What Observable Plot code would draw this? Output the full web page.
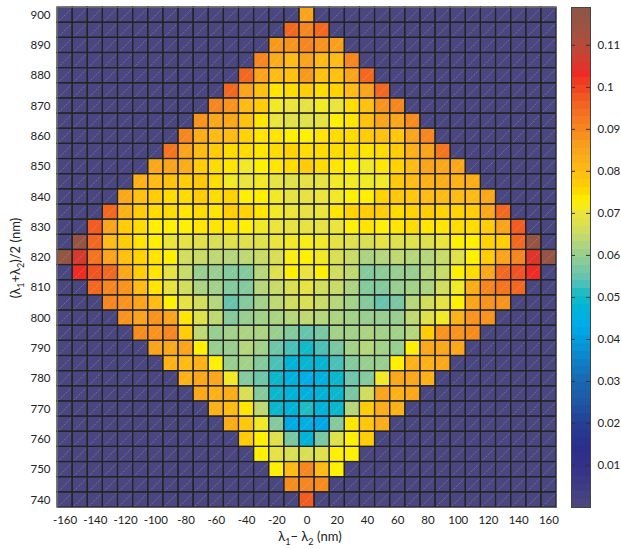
<!DOCTYPE html>
<html><head><meta charset="utf-8">
<script src="https://cdn.jsdelivr.net/npm/d3@7"></script>
<script src="https://cdn.jsdelivr.net/npm/@observablehq/plot@0.6"></script>
<style>
body{margin:0;background:#fff;font-family:Lato,"Open Sans",sans-serif;}
#wrap{position:relative;width:621px;height:549px;display:flex;background:#fff;}
#wrap svg{display:block;}
</style></head><body><div id="wrap"></div>
<script>
// categories
const xValues = [-160,-150,-140,-130,-120,-110,-100,-90,-80,-70,-60,-50,-40,-30,-20,-10,0,10,20,30,40,50,60,70,80,90,100,110,120,130,140,150,160];
const yValues = [900,895,890,885,880,875,870,865,860,855,850,845,840,835,830,825,820,815,810,805,800,795,790,785,780,775,770,765,760,755,750,745,740];
// tick labels
const xTicks = [-160,-140,-120,-100,-80,-60,-40,-20,0,20,40,60,80,100,120,140,160];
const yTicks = [740,750,760,770,780,790,800,810,820,830,840,850,860,870,880,890,900];
const cbTicks = [0.01,0.02,0.03,0.04,0.05,0.06,0.07,0.08,0.09,0.1,0.11];

// values of the non-empty (diamond) cells of each row, centred on x = 0
const v900 = [0.085];
const v895 = [0.095,0.09,0.095];
const v890 = [0.087,0.088,0.09,0.088,0.086];
const v885 = [0.09,0.083,0.08,0.085,0.08,0.08,0.09];
const v880 = [0.095,0.085,0.08,0.079,0.087,0.079,0.079,0.085,0.095];
const v875 = [0.095,0.085,0.079,0.074,0.075,0.077,0.075,0.076,0.08,0.085,0.095];
const v870 = [0.09,0.088,0.08,0.077,0.071,0.07,0.069,0.071,0.07,0.075,0.079,0.088,0.09];
const v865 = [0.088,0.084,0.084,0.079,0.074,0.07,0.068,0.068,0.069,0.073,0.074,0.079,0.085,0.084,0.089];
const v860 = [0.09,0.083,0.08,0.08,0.076,0.074,0.074,0.073,0.073,0.074,0.075,0.075,0.077,0.079,0.078,0.085,0.09];
const v855 = [0.093,0.085,0.08,0.077,0.075,0.075,0.074,0.075,0.076,0.075,0.075,0.075,0.075,0.074,0.075,0.077,0.082,0.085,0.093];
const v850 = [0.084,0.085,0.083,0.077,0.075,0.074,0.071,0.073,0.074,0.075,0.077,0.075,0.074,0.073,0.071,0.074,0.076,0.08,0.085,0.084,0.084];
const v845 = [0.082,0.08,0.079,0.077,0.078,0.075,0.071,0.07,0.071,0.069,0.068,0.069,0.069,0.071,0.071,0.071,0.071,0.078,0.08,0.082,0.083,0.082,0.083];
const v840 = [0.084,0.079,0.077,0.075,0.075,0.077,0.075,0.076,0.073,0.073,0.071,0.069,0.069,0.07,0.071,0.073,0.073,0.076,0.078,0.078,0.08,0.08,0.08,0.08,0.084];
const v835 = [0.095,0.082,0.077,0.075,0.075,0.074,0.075,0.074,0.077,0.076,0.074,0.071,0.07,0.069,0.07,0.074,0.076,0.077,0.077,0.075,0.076,0.077,0.076,0.076,0.077,0.084,0.095];
const v830 = [0.097,0.085,0.077,0.075,0.073,0.073,0.073,0.074,0.074,0.074,0.073,0.071,0.07,0.069,0.069,0.069,0.07,0.073,0.074,0.073,0.074,0.075,0.074,0.074,0.075,0.075,0.077,0.085,0.097];
const v825 = [0.116,0.095,0.08,0.077,0.074,0.073,0.07,0.069,0.068,0.067,0.068,0.068,0.068,0.07,0.071,0.072,0.071,0.069,0.068,0.067,0.069,0.068,0.068,0.068,0.07,0.073,0.073,0.076,0.077,0.095,0.116];
const v820 = [0.117,0.106,0.093,0.085,0.079,0.076,0.074,0.073,0.066,0.065,0.064,0.063,0.064,0.065,0.067,0.072,0.073,0.071,0.067,0.065,0.062,0.063,0.064,0.063,0.063,0.065,0.068,0.073,0.077,0.085,0.09,0.105,0.116];
const v815 = [0.103,0.098,0.095,0.084,0.077,0.074,0.069,0.065,0.06,0.06,0.058,0.058,0.063,0.068,0.073,0.07,0.073,0.066,0.064,0.058,0.059,0.06,0.06,0.063,0.065,0.073,0.075,0.084,0.095,0.098,0.103];
const v810 = [0.095,0.09,0.088,0.08,0.074,0.069,0.066,0.062,0.061,0.058,0.058,0.063,0.065,0.067,0.069,0.066,0.065,0.062,0.058,0.058,0.06,0.061,0.062,0.066,0.071,0.083,0.09,0.093,0.095];
const v805 = [0.09,0.088,0.085,0.08,0.073,0.069,0.066,0.063,0.055,0.058,0.061,0.064,0.066,0.067,0.065,0.063,0.061,0.058,0.055,0.057,0.063,0.066,0.069,0.073,0.085,0.088,0.088];
const v800 = [0.088,0.085,0.088,0.085,0.074,0.068,0.064,0.058,0.06,0.061,0.062,0.063,0.064,0.063,0.062,0.061,0.06,0.06,0.06,0.064,0.068,0.071,0.082,0.088,0.088];
const v795 = [0.089,0.088,0.09,0.077,0.064,0.06,0.061,0.062,0.062,0.06,0.058,0.055,0.057,0.061,0.061,0.062,0.061,0.061,0.063,0.077,0.088,0.088,0.089];
const v790 = [0.085,0.084,0.085,0.073,0.06,0.06,0.063,0.061,0.056,0.053,0.05,0.053,0.057,0.061,0.063,0.061,0.06,0.073,0.084,0.084,0.084];
const v785 = [0.082,0.08,0.082,0.073,0.06,0.061,0.058,0.053,0.047,0.048,0.048,0.053,0.058,0.06,0.06,0.073,0.082,0.082,0.084];
const v780 = [0.082,0.084,0.084,0.071,0.058,0.056,0.049,0.046,0.044,0.046,0.049,0.056,0.058,0.071,0.084,0.084,0.082];
const v775 = [0.084,0.082,0.083,0.067,0.058,0.049,0.047,0.046,0.047,0.049,0.057,0.066,0.085,0.082,0.084];
const v770 = [0.082,0.08,0.074,0.064,0.049,0.047,0.051,0.047,0.049,0.063,0.077,0.083,0.082];
const v765 = [0.083,0.078,0.071,0.058,0.043,0.045,0.043,0.058,0.074,0.078,0.083];
const v760 = [0.077,0.073,0.068,0.057,0.047,0.057,0.068,0.073,0.077];
const v755 = [0.073,0.069,0.067,0.067,0.068,0.073,0.073];
const v750 = [0.073,0.08,0.09,0.08,0.073];
const v745 = [0.089,0.09,0.089];
const v740 = [0.097];
const rowValues = [v900,v895,v890,v885,v880,v875,v870,v865,v860,v855,v850,v845,v840,v835,v830,v825,v820,v815,v810,v805,v800,v795,v790,v785,v780,v775,v770,v765,v760,v755,v750,v745,v740];

// colormap (value stops and colours)
const colorStops = [0,0.0057,0.01,0.0145,0.0199,0.0249,0.0301,0.0361,0.0409,0.0441,0.0472,0.0505,0.0536,0.0568,0.06,0.0632,0.0664,0.07,0.0728,0.076,0.08,0.0856,0.0904,0.0968,0.1004,0.1032,0.108,0.1129,0.119];
const colorRange = ["#4a4780","#3d3a84","#31308a","#2a2f8b","#253f94","#1f56a4","#1869b2","#0c88cd","#00a2e2","#00aee8","#00b3d6","#13bbc6","#58c1b4","#78c7a4","#98ce8f","#b8d67a","#d5de58","#ebe43a","#fff100","#ffd200","#fdbb13","#f9a11b","#f6841f","#f25d22","#f0401f","#ee2a24","#c44535","#a25242","#8b5745"];

const cells = [];
yValues.forEach((y, r) => {
  const row = rowValues[r];
  const start = (xValues.length - row.length) / 2;
  xValues.forEach((x, c) => {
    const i = c - start;
    cells.push({x, y, v: (i >= 0 && i < row.length) ? row[i] : 0});
  });
});

const halfX = (xValues[1] - xValues[0]) / 2;
const halfY = (yValues[0] - yValues[1]) / 2;
const color = {type: "linear", domain: colorStops, range: colorRange, interpolate: "rgb"};
const font = {fontFamily: "Lato, 'Open Sans', sans-serif", fontSize: "11.5px", color: "#222", background: "white", overflow: "visible"};

const rectPos = {x1: d => d.x - halfX, x2: d => d.x + halfX, y1: d => d.y - halfY, y2: d => d.y + halfY};

const main = Plot.plot({
  width: 566, height: 549,
  marginLeft: 57, marginRight: 10, marginTop: 7, marginBottom: 42,
  style: font,
  x: {domain: [xValues[0] - halfX, xValues[xValues.length-1] + halfX], ticks: xTicks, tickSize: 0, tickPadding: 8, tickFormat: d => String(d), label: null},
  y: {domain: [yValues[yValues.length-1] - halfY, yValues[0] + halfY], ticks: yTicks, tickSize: 0, tickPadding: 7, tickFormat: d => String(d), label: null},
  color,
  marks: [
    Plot.rect(cells, {...rectPos, fill: "v", shapeRendering: "crispEdges"}),
    Plot.link(cells, {x1: d => d.x - halfX, y1: d => d.y - halfY, x2: d => d.x + halfX, y2: d => d.y + halfY, stroke: "white", strokeOpacity: 0.35, strokeWidth: 0.8, strokeDasharray: "1.2,1.2"}),
    Plot.rect(cells, {...rectPos, fill: "none", stroke: "#242424", strokeWidth: 1.2}),
    Plot.frame({stroke: "#666", strokeWidth: 1})
  ]
});

// axis titles with subscripts
const svg = d3.select(main);
const xl = svg.append("text").attr("x", 310).attr("y", 541).attr("text-anchor", "middle")
  .style("font-size", "13px").style("fill", "#222");
xl.append("tspan").text("λ");
xl.append("tspan").attr("dy", 4).style("font-size", "9px").text("1");
xl.append("tspan").attr("dy", -4).text("− λ");
xl.append("tspan").attr("dy", 4).style("font-size", "9px").text("2");
xl.append("tspan").attr("dy", -4).text(" (nm)");

const yl = svg.append("text").attr("transform", "translate(20,258) rotate(-90)").attr("text-anchor", "middle")
  .style("font-size", "13px").style("fill", "#222");
yl.append("tspan").text("(λ");
yl.append("tspan").attr("dy", 4).style("font-size", "9px").text("1");
yl.append("tspan").attr("dy", -4).text("+λ");
yl.append("tspan").attr("dy", 4).style("font-size", "9px").text("2");
yl.append("tspan").attr("dy", -4).text(")/2 (nm)");

// colour bar
const cbMax = colorStops[colorStops.length - 1];
const nBands = 64;
const bands = d3.range(nBands).map(i => ({y1: i * cbMax / nBands, y2: (i + 1) * cbMax / nBands}));
const cb = Plot.plot({
  width: 55, height: 549,
  marginLeft: 5, marginRight: 31, marginTop: 7, marginBottom: 42,
  style: font,
  x: {axis: null},
  y: {domain: [0, cbMax], ticks: cbTicks, tickFormat: d3.format("~g"), tickSize: 0, tickPadding: 7, axis: "right", label: null},
  color,
  marks: [
    Plot.rect(bands, {y1: "y1", y2: "y2", fill: d => (d.y1 + d.y2) / 2, shapeRendering: "crispEdges"}),
    Plot.tickY(cbTicks, {y: d => d, stroke: "#333", strokeWidth: 1, insetRight: 15}),
    Plot.tickY(cbTicks, {y: d => d, stroke: "#333", strokeWidth: 1, insetLeft: 15}),
    Plot.frame({stroke: "#444", strokeWidth: 1})
  ]
});

const wrap = document.getElementById("wrap");
wrap.appendChild(main);
wrap.appendChild(cb);
</script></body></html>
